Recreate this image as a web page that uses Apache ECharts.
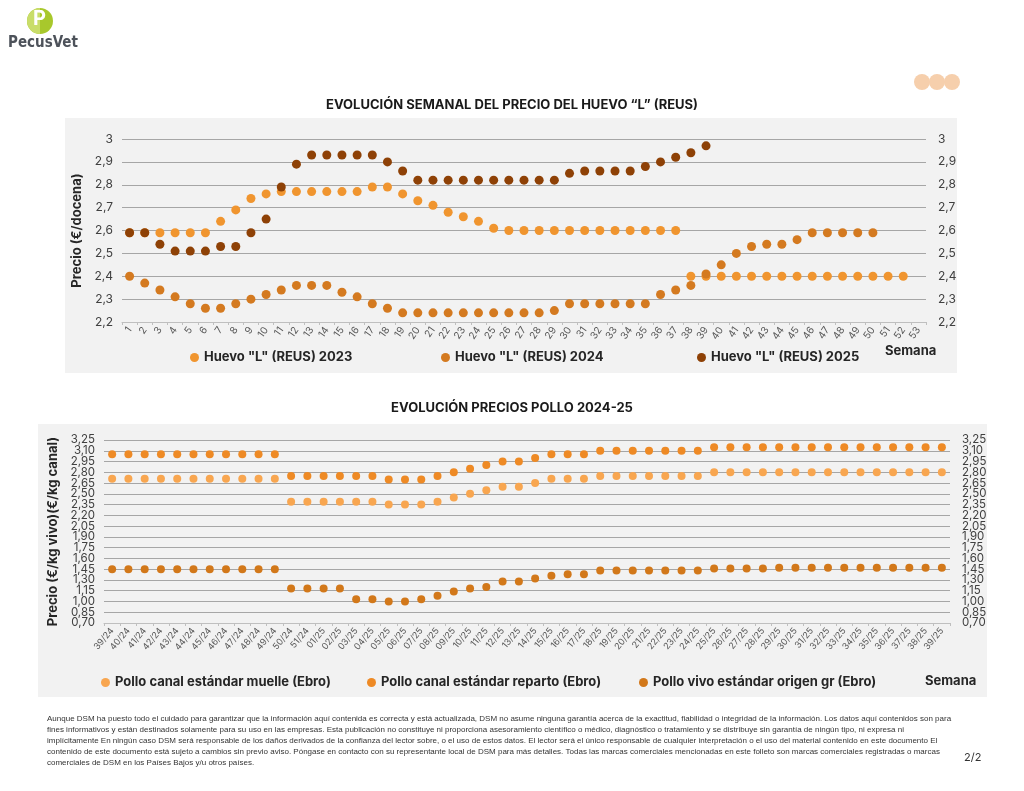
<!DOCTYPE html>
<html><head><meta charset="utf-8">
<script src="https://cdn.jsdelivr.net/npm/echarts@6/dist/echarts.min.js"></script>
<style>html,body{margin:0;padding:0;background:#fff}#c{width:1024px;height:791px}</style>
</head><body><div id="c"></div>
<script>
// ---- Top chart data (egg price, €/docena) ----
const weeks = Array.from({length:53},(_,i)=>String(i+1));
const huevo2023 = [2.59,2.59,2.59,2.59,2.59,2.59,2.64,2.69,2.74,2.76,2.77,2.77,2.77,2.77,2.77,2.77,2.79,2.79,2.76,2.73,2.71,2.68,2.66,2.64,2.61,
  2.60,2.60,2.60,2.60,2.60,2.60,2.60,2.60,2.60,2.60,2.60,2.60,
  2.40,2.40,2.40,2.40,2.40,2.40,2.40,2.40,2.40,2.40,2.40,2.40,2.40,2.40,2.40,null];
const huevo2024 = [2.40,2.37,2.34,2.31,2.28,2.26,2.26,2.28,2.30,2.32,2.34,2.36,2.36,2.36,2.33,2.31,2.28,2.26,2.24,
  2.24,2.24,2.24,2.24,2.24,2.24,2.24,2.24,2.24,2.25,2.28,2.28,2.28,2.28,2.28,2.28,2.32,2.34,2.36,2.41,2.45,2.50,2.53,2.54,2.54,2.56,
  2.59,2.59,2.59,2.59,2.59,null,null];
const huevo2025 = [2.59,2.59,2.54,2.51,2.51,2.51,2.53,2.53,2.59,2.65,2.79,2.89,2.93,2.93,2.93,2.93,2.93,2.90,2.86,
  2.82,2.82,2.82,2.82,2.82,2.82,2.82,2.82,2.82,2.82,2.85,2.86,2.86,2.86,2.86,2.88,2.90,2.92,2.94,2.97];

// ---- Bottom chart data (chicken price) ----
const semanas = ['39/24','40/24','41/24','42/24','43/24','44/24','45/24','46/24','47/24','48/24','49/24','50/24','51/24',
  '01/25','02/25','03/25','04/25','05/25','06/25','07/25','08/25','09/25','10/25','11/25','12/25','13/25','14/25','15/25',
  '16/25','17/25','18/25','19/25','20/25','21/25','22/25','23/25','24/25','25/25','26/25','27/25','28/25','29/25','30/25',
  '31/25','32/25','33/25','34/25','35/25','36/25','37/25','38/25','39/25'];
const muelle = [2.71,2.71,2.71,2.71,2.71,2.71,2.71,2.71,2.71,2.71,2.71,2.39,2.39,2.39,2.39,2.39,2.39,2.35,2.35,2.35,2.39,2.45,2.50,2.55,2.60,2.60,2.65,2.71,2.71,2.71,
  2.75,2.75,2.75,2.75,2.75,2.75,2.75,2.80,2.80,2.80,2.80,2.80,2.80,2.80,2.80,2.80,2.80,2.80,2.80,2.80,2.80,2.80];
const reparto = [3.05,3.05,3.05,3.05,3.05,3.05,3.05,3.05,3.05,3.05,3.05,2.75,2.75,2.75,2.75,2.75,2.75,2.70,2.70,2.70,2.75,2.80,2.85,2.90,2.95,2.95,3.00,3.05,3.05,3.05,
  3.10,3.10,3.10,3.10,3.10,3.10,3.10,3.15,3.15,3.15,3.15,3.15,3.15,3.15,3.15,3.15,3.15,3.15,3.15,3.15,3.15,3.15];
const vivo = [1.45,1.45,1.45,1.45,1.45,1.45,1.45,1.45,1.45,1.45,1.45,1.18,1.18,1.18,1.18,1.03,1.03,1.00,1.00,1.03,1.08,1.14,1.18,1.20,1.28,1.28,1.32,1.36,1.38,1.38,
  1.43,1.43,1.43,1.43,1.43,1.43,1.43,1.46,1.46,1.46,1.46,1.47,1.47,1.47,1.47,1.47,1.47,1.47,1.47,1.47,1.47,1.47];

const FONT = 'Inter';
const TXT = '#262626';
const GRID = '#a6a6a6';
const c2023='#F0952F', c2024='#D47A20', c2025='#8E4106';
const cMuelle='#F8A650', cReparto='#EE8A25', cVivo='#D2781A';

const fmt1 = v => { const r = Math.round(v*10)/10; return String(r).replace('.', ','); };
const fmt2 = v => (Math.round(v*100)/100).toFixed(2).replace('.', ',');

function yAx(gi, min, max, interval, fmt, fs, pos, opts){
  opts = opts || {};
  return {type:'value', gridIndex:gi, min, max, interval, position:pos,
    name: opts.name||'', nameLocation:'middle', nameGap: opts.nameGap||0, nameRotate:90,
    nameTextStyle:{fontFamily:FONT, fontWeight:'bold', fontSize:13, color:TXT},
    axisLine:{show:false}, axisTick:{show:false},
    axisLabel:{formatter:fmt, fontFamily:FONT, fontSize:fs, color:'#404040', margin:pos==='left'?9:12,
      showMinLabel: opts.showEnds !== false, showMaxLabel: opts.showEnds !== false},
    splitLine:{show:!!opts.split, lineStyle:{color:GRID, width:1}}};
}
function legendItem(name, left, top){
  return {data:[{name, icon:'circle'}], left, top, padding:0, itemWidth:9, itemHeight:9, itemGap:4,
    textStyle:{fontFamily:FONT, fontWeight:'bold', fontSize:13, color:TXT}};
}
function sc(name, data, color, xi, yi, size){
  return {type:'scatter', name, data, xAxisIndex:xi, yAxisIndex:yi, symbolSize:size,
    itemStyle:{color, opacity:1}, emphasis:{disabled:true}};
}

const footer = [
 'Aunque DSM ha puesto todo el cuidado para garantizar que la información aquí contenida es correcta y está actualizada, DSM no asume ninguna garantía acerca de la exactitud, fiabilidad o integridad de la información. Los datos aquí contenidos son para',
 'fines informativos y están destinados solamente para su uso en las empresas. Esta publicación no constituye ni proporciona asesoramiento científico o médico, diagnóstico o tratamiento y se distribuye sin garantía de ningún tipo, ni expresa ni',
 'implícitamente En ningún caso DSM será responsable de los daños derivados de la confianza del lector sobre, o el uso de estos datos. El lector será el único responsable de cualquier interpretación o el uso del material contenido en este documento El',
 'contenido de este documento está sujeto a cambios sin previo aviso. Póngase en contacto con su representante local de DSM para más detalles. Todas las marcas comerciales mencionadas en este folleto son marcas comerciales registradas o marcas',
 'comerciales de DSM en los Países Bajos y/u otros países.'
].join('\n');

const chart = echarts.init(document.getElementById('c'), null, {renderer:'canvas'});
chart.setOption({
  animation:false,
  backgroundColor:'#ffffff',
  textStyle:{fontFamily:FONT},
  title:[
    {text:'EVOLUCIÓN SEMANAL DEL PRECIO DEL HUEVO “L” (REUS)', left:'center', top:94,
      textStyle:{fontFamily:FONT, fontWeight:'bold', fontSize:13, color:'#1a1a1a'}},
    {text:'EVOLUCIÓN PRECIOS POLLO 2024-25', left:'center', top:397,
      textStyle:{fontFamily:FONT, fontWeight:'bold', fontSize:13, color:'#1a1a1a'}}
  ],
  grid:[
    {left:122, right:98, top:139, bottom:469},
    {left:104, right:74, top:440, bottom:168}
  ],
  xAxis:[
    {type:'category', gridIndex:0, data:weeks, boundaryGap:true,
      axisLine:{lineStyle:{color:'#bfbfbf'}}, axisTick:{show:true, length:3, lineStyle:{color:'#bfbfbf'}},
      axisLabel:{interval:0, rotate:55, fontFamily:FONT, fontSize:10, color:'#595959', margin:6}},
    {type:'category', gridIndex:1, data:semanas, boundaryGap:true,
      axisLine:{lineStyle:{color:'#bfbfbf'}}, axisTick:{show:true, length:3, lineStyle:{color:'#bfbfbf'}},
      axisLabel:{interval:0, rotate:50, fontFamily:FONT, fontSize:9, color:'#595959', margin:6}}
  ],
  yAxis:[
    yAx(0, 2.2, 3, 0.1, fmt1, 12, 'left', {name:'Precio (€/docena)', nameGap:38, split:true}),
    yAx(0, 2.2, 3, 0.1, fmt1, 12, 'right'),
    yAx(1, 0.70, 3.25, 0.15, fmt2, 11.5, 'left', {name:'Precio (€/kg vivo)(€/kg canal)', nameGap:38, split:true, showEnds:false}),
    yAx(1, 0.70, 3.25, 0.15, fmt2, 11.5, 'right', {showEnds:false}),
    // end labels (0,70 and 3,25) on their own axes so they are not dropped for overlap
    yAx(1, 0.70, 3.25, 2.55, fmt2, 11.5, 'left'),
    yAx(1, 0.70, 3.25, 2.55, fmt2, 11.5, 'right')
  ],
  legend:[
    legendItem('Huevo "L" (REUS) 2023', 190, 351),
    legendItem('Huevo "L" (REUS) 2024', 441, 351),
    legendItem('Huevo "L" (REUS) 2025', 697, 351),
    legendItem('Pollo canal estándar muelle (Ebro)', 101, 676),
    legendItem('Pollo canal estándar reparto (Ebro)', 367, 676),
    legendItem('Pollo vivo estándar origen gr (Ebro)', 639, 676)
  ],
  series:[
    sc('Huevo "L" (REUS) 2023', huevo2023, c2023, 0, 0, 9),
    sc('Huevo "L" (REUS) 2024', huevo2024, c2024, 0, 0, 9),
    sc('Huevo "L" (REUS) 2025', huevo2025, c2025, 0, 0, 9),
    sc('Pollo canal estándar muelle (Ebro)', muelle, cMuelle, 1, 2, 8),
    sc('Pollo canal estándar reparto (Ebro)', reparto, cReparto, 1, 2, 8),
    sc('Pollo vivo estándar origen gr (Ebro)', vivo, cVivo, 1, 2, 8)
  ],
  graphic:[
    {type:'rect', z:-10, silent:true, shape:{x:65, y:118, width:892, height:255}, style:{fill:'#f2f2f2'}},
    {type:'rect', z:-10, silent:true, shape:{x:38, y:424, width:949, height:273}, style:{fill:'#f2f2f2'}},
    {type:'text', left:885, top:345, style:{text:'Semana', font:'bold 13px '+FONT, fill:TXT}},
    {type:'text', left:925, top:675, style:{text:'Semana', font:'bold 13px '+FONT, fill:TXT}},
    // logo
    {type:'circle', shape:{cx:40, cy:21, r:13}, style:{fill:'#a8c82c'}},
    {type:'sector', shape:{cx:40, cy:21, r:13, startAngle:Math.PI/2, endAngle:Math.PI*1.5}, style:{fill:'#c9dd6a'}},
    {type:'text', left:33, top:9, style:{text:'P', font:'bold 20px '+FONT, fill:'#ffffff'}},
    {type:'text', left:8, top:36, style:{text:'PecusVet', font:'bold 15px "DejaVu Sans Condensed", "Liberation Sans Narrow", sans-serif', fill:'#4d525a'}},
    // top-right dots
    {type:'circle', shape:{cx:922, cy:82, r:8}, style:{fill:'#f6cfac'}},
    {type:'circle', shape:{cx:937, cy:82, r:8}, style:{fill:'#f6cfac'}},
    {type:'circle', shape:{cx:952, cy:82, r:8}, style:{fill:'#f6cfac'}},
    // footer
    {type:'text', left:47, top:713, style:{text:footer, font:'8px "Liberation Sans", sans-serif', lineHeight:11, fill:'#333333'}},
    {type:'text', left:964, top:752, style:{text:'2/2', font:'11px '+FONT, fill:'#333333'}}
  ]
});
</script></body></html>
